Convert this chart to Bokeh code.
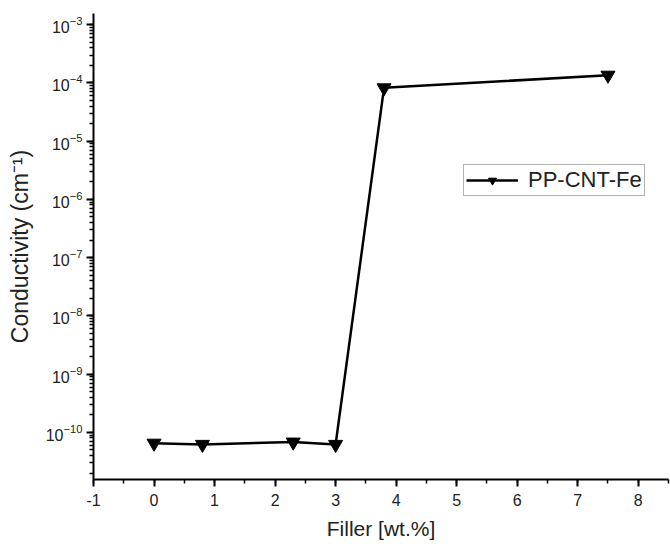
from bokeh.plotting import figure
from bokeh.models import Range1d, LogTicker, SingleIntervalTicker, Legend, LegendItem, ColumnDataSource
from bokeh.embed import file_html
from bokeh.resources import INLINE

filler = [0.0, 0.8, 2.3, 3.0, 3.8, 7.5]
conductivity = [6.5e-11, 6.2e-11, 6.8e-11, 6.2e-11, 8.2e-5, 1.35e-4]
series_name = "PP-CNT-Fe"
x_label = "Filler [wt.%]"
y_label = "Conductivity (cm\u207b\u00b9)"
x_ticks = [-1, 0, 1, 2, 3, 4, 5, 6, 7, 8]

src = ColumnDataSource(dict(x=filler, y=conductivity))

p = figure(width=670, height=544, y_axis_type="log",
           x_range=Range1d(-1, 8.5), y_range=Range1d(1.55e-11, 1.55e-3),
           output_backend="svg", toolbar_location=None,
           min_border_left=93, min_border_right=2, min_border_top=13, min_border_bottom=65)
p.outline_line_color = None
p.xgrid.visible = False
p.ygrid.visible = False

line = p.line("x", "y", source=src, line_color="black", line_width=2.5)
pts = p.scatter("x", "y", source=src, marker="inverted_triangle", size=14,
                fill_color="black", line_color="black")

p.xaxis.ticker = SingleIntervalTicker(interval=1, num_minor_ticks=2)
p.yaxis.ticker = LogTicker(desired_num_ticks=10, num_minor_ticks=10)
p.xaxis.major_label_overrides = {t: str(t) for t in x_ticks}

for ax in (p.xaxis[0], p.yaxis[0]):
    ax.axis_line_width = 2
    ax.axis_line_color = "black"
    ax.major_tick_line_width = 2
    ax.minor_tick_line_width = 1.5
    ax.major_tick_out = 7
    ax.major_tick_in = 0
    ax.minor_tick_out = 4
    ax.minor_tick_in = 0
    ax.major_label_text_font = "Liberation Sans"
    ax.major_label_text_font_size = "16px"
    ax.major_label_text_color = "#222222"
    ax.axis_label_text_font = "Liberation Sans"
    ax.axis_label_text_font_style = "normal"
    ax.axis_label_text_color = "#222222"

p.xaxis.axis_label = x_label
p.yaxis.axis_label = y_label
p.xaxis.axis_label_text_font_size = "21px"
p.yaxis.axis_label_text_font_size = "23px"
p.xaxis.major_label_standoff = 7
p.yaxis.major_label_standoff = 4
p.xaxis.axis_label_standoff = 8
p.yaxis.axis_label_standoff = 10

legend = Legend(items=[LegendItem(label=series_name, renderers=[line, pts])],
                location=(370, 283), glyph_width=52, glyph_height=20,
                label_text_font="Liberation Sans", label_text_font_size="22px",
                label_text_color="#222222", label_height=20,
                label_standoff=10, padding=2, margin=0, spacing=0,
                border_line_color="#666666", border_line_width=1.5,
                background_fill_alpha=1)
p.add_layout(legend)

open("out.html", "w").write(file_html(p, INLINE))
